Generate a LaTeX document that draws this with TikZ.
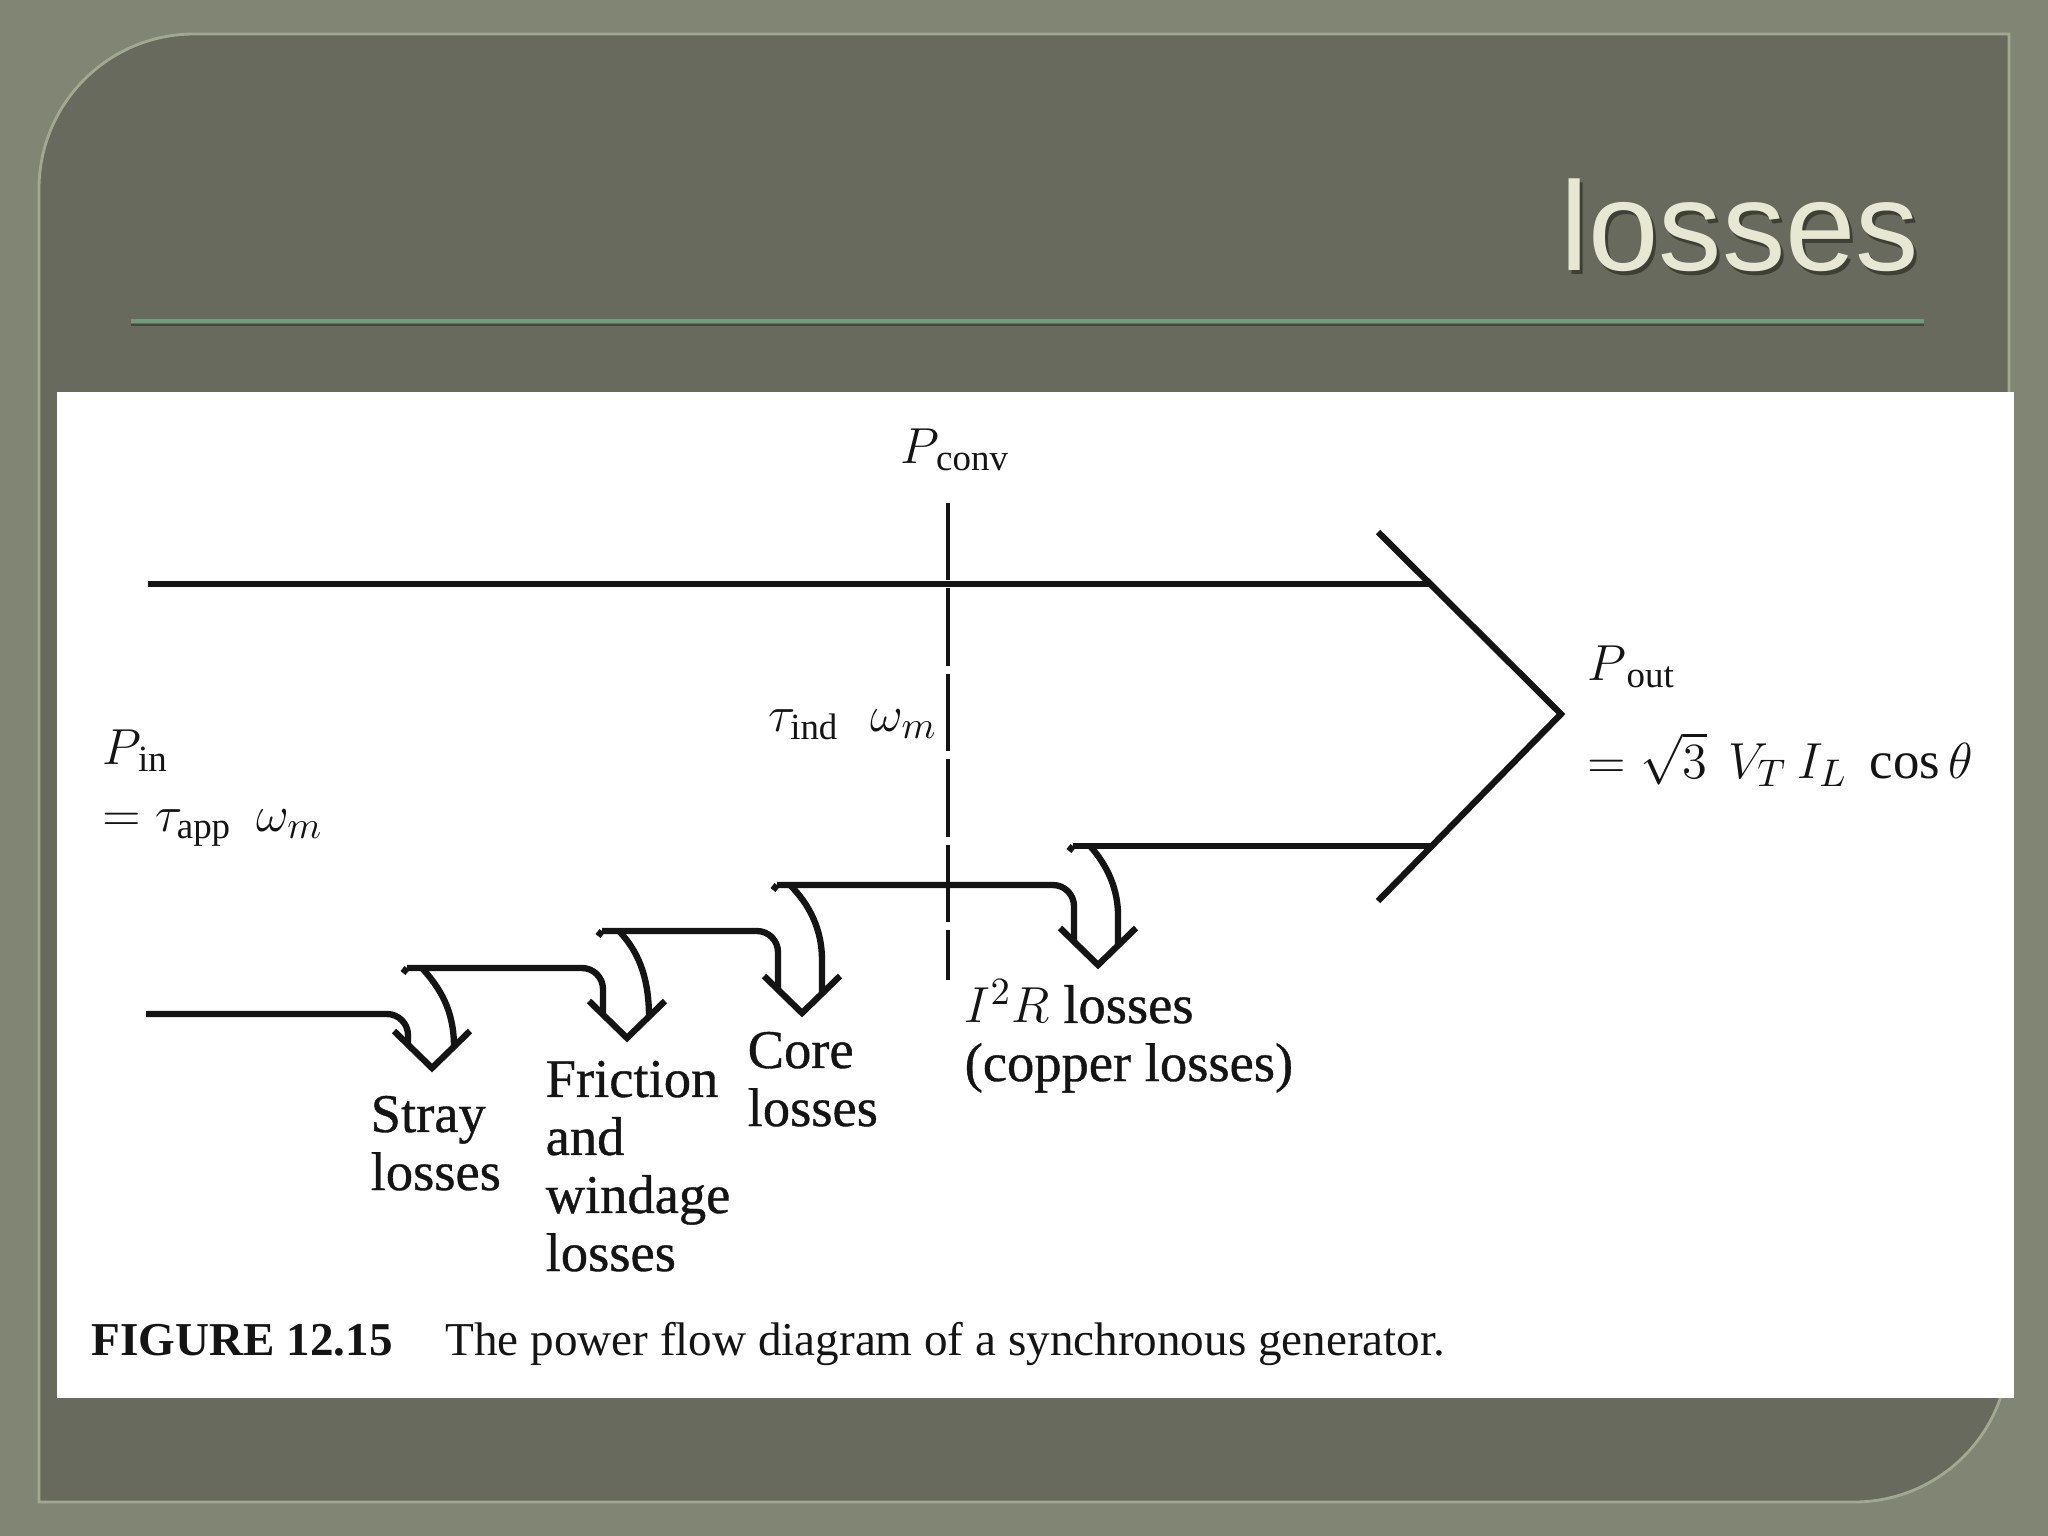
\documentclass[tikz,border=0pt]{standalone}
\usepackage{fontspec}
\setmainfont{Liberation Serif}
\newfontfamily\titlefont{Liberation Sans}
\newfontfamily\diafont[FakeBold=0.7]{Liberation Serif}
\definecolor{outerbg}{HTML}{808673}
\definecolor{panelbg}{HTML}{676A5C}
\definecolor{panelrim}{HTML}{A3A893}
\definecolor{rulegreen}{HTML}{6E9C7C}
\definecolor{ruleshadow}{HTML}{46483C}
\definecolor{titlecream}{HTML}{E6E8D3}
\definecolor{titleshade}{HTML}{3E4035}
\definecolor{ink}{HTML}{141414}
\tikzset{
  flow/.style={draw=ink, line width=1.8pt, line join=round},
  headv/.style={draw=ink, line width=1.8pt, line join=miter},
  pdash/.style={draw=ink, line width=0.9pt, dash pattern=on 22pt off 2.3pt},
  lbl/.style={text=ink, inner sep=0pt, anchor=base west, align=left, font=\diafont\fontsize{15.5}{16.5}\selectfont},
  mlbl/.style={text=ink, inner sep=0pt, anchor=base west, font=\fontsize{15}{18}\selectfont},
}
\begin{document}
\begin{tikzpicture}[x=0.01cm,y=-0.01cm]
\useasboundingbox (0,0) rectangle (2048,1536);
% backgrounds
\fill[outerbg] (0,0) rectangle (2048,1536);
\fill[panelbg, draw=panelrim, line width=0.8pt]
  (39,189) .. controls (39,103.4) and (108.4,34) .. (194,34)
  -- (2009,34) -- (2009,1347)
  .. controls (2009,1432.6) and (1939.6,1502) .. (1854,1502)
  -- (39,1502) -- cycle;
% title
\node[anchor=base east, inner sep=0pt, text=titleshade, font=\titlefont\fontsize{36}{40}\selectfont] (titleshadow) at (1923,274) {losses};
\node[anchor=base east, inner sep=0pt, text=titlecream, font=\titlefont\fontsize{36}{40}\selectfont] (title) at (1920,270) {losses};
\draw[ruleshadow, line width=0.7pt] (131,325) -- (1924,325);
\draw[rulegreen, line width=1pt] (131,321) -- (1924,321);
% white figure area
\fill[white] (57,392) rectangle (2014,1398);

% main power flow
\draw[flow] (148,584) -- (1430,584);
\draw[headv] (1378,532) -- (1561,714) -- (1378,901);

% step lines
\draw[flow, rounded corners=6pt] (146,1014) -| (408,1045);
\draw[flow] (403,973) -- (407,968);
\draw[flow, rounded corners=6pt] (407,968) -| (603,1015);
\draw[flow] (598,936) -- (602,931);
\draw[flow, rounded corners=6pt] (602,931) -| (778,990);
\draw[flow] (773,890) -- (777,885);
\draw[flow, rounded corners=6pt] (777,885) -| (1074,942);
\draw[flow] (1069,851) -- (1073,846);
\draw[flow] (1073,846) -- (1433,846);

% right sides of the loss arrows
\draw[flow] (422,968) .. controls (440,988) and (454,1010) .. (454,1047);
\draw[flow] (619,931) .. controls (637,950) and (649,975) .. (649,1017);
\draw[flow] (790,885) .. controls (810,905) and (822,930) .. (822,960) -- (822,993);
\draw[flow] (1090,846) .. controls (1108,866) and (1118,890) .. (1118,915) -- (1118,946);

% arrow heads
\draw[headv] (394,1031) -- (432,1068) -- (470,1031);
\draw[headv] (589,1001) -- (627,1038) -- (665,1001);
\draw[headv] (764,976) -- (802,1013) -- (840,976);
\draw[headv] (1060,928) -- (1098,965) -- (1136,928);

% dashed P_conv line
\draw[pdash] (948,503) -- (948,980);

% labels
\node[mlbl] (pconv) at (900,463) {$P_{\kern1pt\mathrm{conv}}$};
\node[mlbl, anchor=base east] (tind) at (938,731) {$\tau_{\mathrm{ind}}\hspace{9pt}\omega_m$};
\node[mlbl] (pin) at (102,764) {$P_{\kern1pt\mathrm{in}}$};
\node[mlbl] (pineq) at (102,831) {$=\tau_{\mathrm{app}}\hspace{7pt}\omega_m$};
\node[mlbl] (pout) at (1587,680) {$P_{\kern2pt\mathrm{out}}$};
\node[mlbl] (pouteq) at (1587,778) {$=\sqrt{3}\hspace{6pt}V_T\hspace{3pt}I_L\hspace{4pt}\cos\theta$};

\node[lbl] (stray) at (370,1190) {Stray\\losses};
\node[lbl] (fric) at (545,1271) {Friction\\and\\windage\\losses};
\node[lbl] (core) at (747,1126) {Core\\losses};
\node[lbl] (cu) at (964,1081) {$I^2R$ losses\\(copper losses)};

\node[text=ink, inner sep=0pt, anchor=base west, font=\fontsize{13.4}{16}\selectfont] (caption) at (91,1355)
  {\textbf{FIGURE 12.15}\hspace{15pt}The power flow diagram of a synchronous generator.};
\end{tikzpicture}
\end{document}
